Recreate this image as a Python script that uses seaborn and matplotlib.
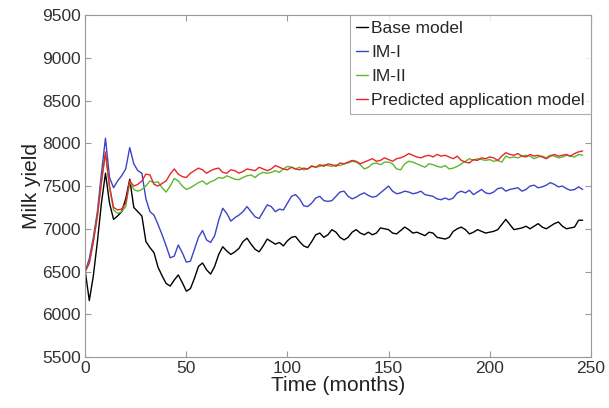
import seaborn as sns
import matplotlib.pyplot as plt
import pandas as pd

# time axis, every 2 months
months = list(range(0, 248, 2))

base_model = [6500, 6160, 6450, 6850, 7300, 7650, 7300, 7110, 7150, 7200,
              7350, 7580, 7250, 7200, 7150, 6850, 6780, 6720, 6550, 6450,
              6360, 6330, 6400, 6460, 6370, 6270, 6300, 6420, 6560, 6600,
              6520, 6470, 6560, 6700, 6790, 6740, 6700, 6730, 6770, 6850,
              6890, 6820, 6760, 6730, 6800, 6880, 6850, 6820, 6840, 6800,
              6860, 6900, 6910, 6850, 6800, 6780, 6850, 6930, 6950, 6900,
              6930, 6990, 6960, 6900, 6870, 6900, 6960, 6990, 6950, 6930,
              6960, 6930, 6950, 7010, 7000, 6990, 6950, 6940, 6980, 7020,
              6990, 6950, 6960, 6940, 6920, 6960, 6950, 6900, 6890, 6880,
              6900, 6970, 7000, 7020, 6990, 6940, 6960, 6990, 6970, 6950,
              6960, 6970, 6990, 7050, 7110, 7050, 6990, 7000, 7010, 7030,
              7000, 7030, 7060, 7020, 7000, 7030, 7060, 7080, 7030, 7000,
              7010, 7020, 7100, 7100]

im_1 = [6500, 6650, 6900, 7200, 7650, 8060, 7600, 7480, 7560, 7620,
        7700, 7950, 7760, 7680, 7650, 7350, 7200, 7160, 7050, 6930,
        6800, 6660, 6680, 6810, 6720, 6610, 6620, 6760, 6900, 6980,
        6870, 6840, 6920, 7100, 7240, 7180, 7090, 7130, 7160, 7200,
        7260, 7200, 7140, 7120, 7200, 7280, 7260, 7200, 7230, 7220,
        7300, 7380, 7400, 7350, 7270, 7260, 7300, 7360, 7380, 7330,
        7320, 7330, 7380, 7430, 7440, 7380, 7350, 7370, 7400, 7420,
        7390, 7370, 7380, 7420, 7460, 7500, 7440, 7410, 7420, 7440,
        7430, 7410, 7420, 7440, 7400, 7390, 7380, 7350, 7340, 7360,
        7340, 7360, 7420, 7440, 7420, 7450, 7400, 7430, 7460, 7420,
        7410, 7430, 7470, 7480, 7440, 7460, 7470, 7480, 7440, 7460,
        7500, 7510, 7480, 7490, 7510, 7540, 7520, 7490, 7500, 7470,
        7450, 7460, 7490, 7460]

im_2 = [6500, 6600, 6850, 7150, 7550, 7880, 7480, 7220, 7180, 7200,
        7260, 7550, 7460, 7440, 7460, 7500, 7560, 7540, 7550, 7480,
        7430, 7500, 7590, 7560, 7500, 7460, 7480, 7510, 7540, 7560,
        7520, 7550, 7570, 7600, 7590, 7620, 7600, 7580, 7575, 7600,
        7620, 7630, 7600, 7640, 7660, 7650, 7660, 7680, 7660, 7700,
        7730, 7720, 7700, 7720, 7690, 7700, 7740, 7720, 7730, 7750,
        7740, 7730, 7750, 7740, 7760, 7770, 7790, 7780, 7750, 7700,
        7720, 7760, 7770, 7750, 7780, 7780, 7760, 7700, 7690, 7760,
        7790, 7780, 7760, 7740, 7720, 7760, 7750, 7730, 7720, 7740,
        7700, 7710, 7730, 7760, 7790, 7820, 7800, 7820, 7810, 7800,
        7810, 7790, 7800, 7780, 7850, 7830, 7840, 7830, 7850, 7860,
        7850, 7820, 7840, 7850, 7830, 7860, 7850, 7830, 7840, 7860,
        7850, 7840, 7870, 7860]

predicted = [6500, 6600, 6850, 7150, 7550, 7900, 7500, 7250, 7220, 7230,
             7300, 7560, 7500, 7520, 7560, 7640, 7630, 7520, 7500, 7530,
             7560, 7640, 7700, 7640, 7610, 7600, 7650, 7680, 7710, 7690,
             7650, 7680, 7700, 7710, 7660, 7650, 7690, 7680, 7650, 7670,
             7700, 7690, 7680, 7720, 7700, 7680, 7700, 7740, 7720, 7700,
             7690, 7720, 7700, 7690, 7710, 7700, 7730, 7720, 7750, 7730,
             7760, 7750, 7730, 7770, 7760, 7780, 7800, 7790, 7760, 7780,
             7800, 7820, 7790, 7800, 7830, 7810, 7790, 7820, 7830, 7850,
             7880, 7860, 7840, 7830, 7850, 7860, 7840, 7870, 7850, 7860,
             7840, 7820, 7850, 7800, 7780, 7770, 7810, 7800, 7830, 7820,
             7840, 7830, 7800, 7850, 7890, 7870, 7860, 7880, 7850, 7840,
             7870, 7850, 7860, 7840, 7820, 7850, 7870, 7850, 7860, 7870,
             7850, 7880, 7900, 7910]

labels = ['Base model', 'IM-I', 'IM-II', 'Predicted application model']
colors = ['black', '#3b45c4', '#5cb82e', '#e8262b']

frames = []
for name, vals in zip(labels, [base_model, im_1, im_2, predicted]):
    frames.append(pd.DataFrame({'month': months, 'yield': vals, 'model': name}))
df = pd.concat(frames)

sns.set_style('white')
plt.rcParams['font.family'] = ['Liberation Sans', 'DejaVu Sans']

fig = plt.figure(figsize=(6.09, 4.08), dpi=100)
ax = fig.add_axes([0.14, 0.125, 0.83, 0.838])

sns.lineplot(data=df, x='month', y='yield', hue='model', hue_order=labels,
             palette=colors, linewidth=1.0, ax=ax)

ax.set_xlim(0, 250)
ax.set_ylim(5500, 9500)
ax.set_xticks(range(0, 251, 50))
ax.set_yticks(range(5500, 9501, 500))
ax.set_xlabel('Time (months)', fontsize=15, color='#222222', labelpad=0)
ax.set_ylabel('Milk yield', fontsize=15, color='#222222', labelpad=1)
ax.tick_params(direction='in', length=4, width=0.8, color='#999999',
               labelsize=12.5, labelcolor='#333333',
               bottom=True, left=True, top=True, right=True, pad=3)
for s in ax.spines.values():
    s.set_color('#999999')
    s.set_linewidth(0.8)

leg = ax.legend(loc='upper right', fontsize=12.5, frameon=True, fancybox=False,
                handlelength=0.7, handletextpad=0.15, borderaxespad=0,
                labelspacing=0.5, borderpad=0.35)
leg.get_frame().set_edgecolor('#999999')
leg.get_frame().set_linewidth(0.8)

plt.savefig('out.png', dpi=100)
